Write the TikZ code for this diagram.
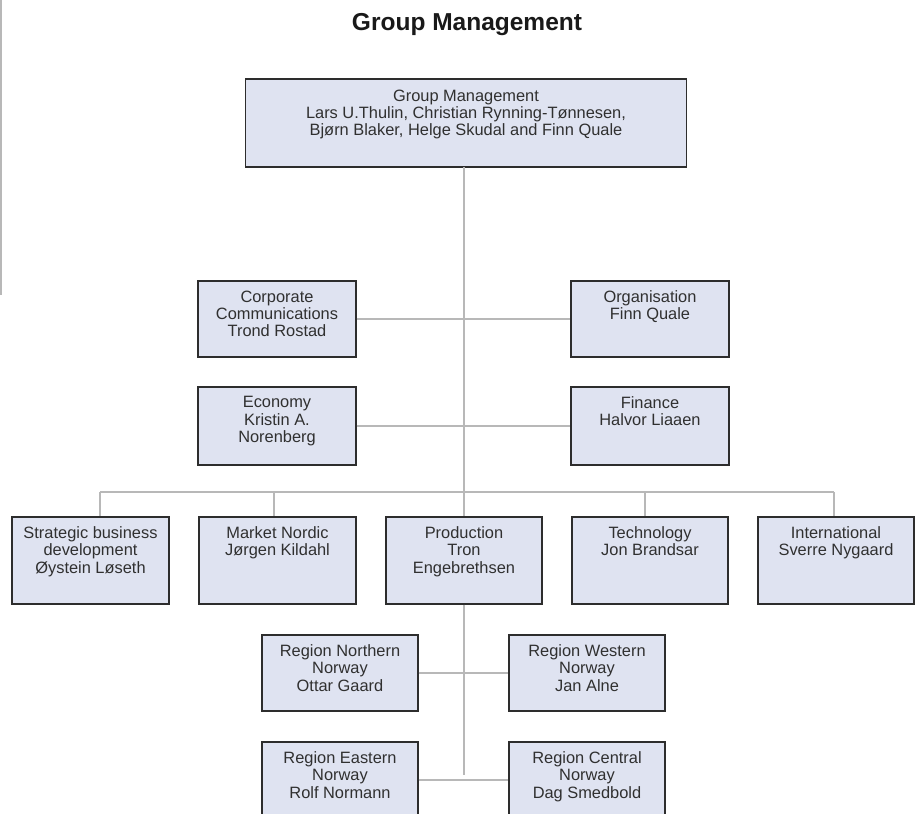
\documentclass[tikz,border=0pt]{standalone}
\usepackage{fontspec}
\setmainfont{Liberation Sans}
\usetikzlibrary{positioning}
\definecolor{boxfill}{RGB}{223,227,241}
\definecolor{boxline}{RGB}{45,45,45}
\definecolor{linegray}{RGB}{184,184,184}
\definecolor{txtgray}{RGB}{48,48,48}
\begin{document}
\begin{tikzpicture}[x=1pt,y=-1pt,
  box/.style={draw=boxline, fill=boxfill, line width=1.2pt, inner sep=0pt},
  lbl/.style={inner sep=0pt, align=center, text=txtgray,
     font=\fontsize{16.4}{17.4}\selectfont, execute at begin node=\strut},
  link/.style={draw=linegray, line width=1.5pt}]
\clip (0,0) rectangle (922,814);
\fill[white] (0,0) rectangle (922,814);
\draw[draw=linegray, line width=1.8pt] (1,0) -- (1,295);

\node[anchor=base, font=\bfseries\fontsize{24.5}{28}\selectfont, text=black!90] (title) at (467,30) {Group Management};

\coordinate (mtop) at (464,167);
\coordinate (mbot) at (464,775);
\coordinate (d1) at (100,492);
\coordinate (d2) at (274,492);
\coordinate (d3) at (464,492);
\coordinate (d4) at (645,492);
\coordinate (d5) at (834,492);

% boxes
\node[box, minimum width=441pt, minimum height=88pt] (gm) at (466,123) {};
\node[box, minimum width=158pt, minimum height=76pt] (cc) at (277,319) {};
\node[box, minimum width=158pt, minimum height=76pt] (org) at (650,319) {};
\node[box, minimum width=158pt, minimum height=78pt] (eco) at (277,426) {};
\node[box, minimum width=158pt, minimum height=78pt] (fin) at (650,426) {};
\node[box, minimum width=157pt, minimum height=87pt] (sbd) at (90.5,560.5) {};
\node[box, minimum width=157pt, minimum height=87pt] (mn) at (277.5,560.5) {};
\node[box, minimum width=156pt, minimum height=87pt] (prod) at (464,560.5) {};
\node[box, minimum width=156pt, minimum height=87pt] (tech) at (650,560.5) {};
\node[box, minimum width=156pt, minimum height=87pt] (intl) at (836,560.5) {};
\node[box, minimum width=156pt, minimum height=76pt] (rn) at (340,673) {};
\node[box, minimum width=156pt, minimum height=76pt] (rw) at (587,673) {};
\node[box, minimum width=156pt, minimum height=76pt] (re) at (340,780) {};
\node[box, minimum width=156pt, minimum height=76pt] (rc) at (587,780) {};

% lines
\draw[link] (mtop) -- (prod.north);
\draw[link] (prod.south) -- (mbot);
\draw[link] (cc.east) -- (org.west);
\draw[link] (eco.east) -- (fin.west);
\draw[link] (d1) -- (d5);
\draw[link] (d1) -- (d1 |- sbd.north);
\draw[link] (d2) -- (d2 |- mn.north);
\draw[link] (d4) -- (d4 |- tech.north);
\draw[link] (d5) -- (d5 |- intl.north);
\draw[link] (rn.east) -- (rw.west);
\draw[link] (re.east) -- (rc.west);

% labels
\node[lbl, below=11pt of gm.north] (gmt) {Group Management\\Lars U.Thulin, Christian Rynning-Tønnesen,\\Bjørn Blaker, Helge Skudal and Finn Quale};
\node[lbl, below=10pt of cc.north] (cct) {Corporate\\Communications\\Trond Rostad};
\node[lbl, below=10pt of org.north] (orgt) {Organisation\\Finn Quale};
\node[lbl, below=10pt of eco.north] (ecot) {Economy\\Kristin A.\\Norenberg};
\node[lbl, below=10pt of fin.north] (fint) {Finance\\Halvor Liaaen};
\node[lbl, below=10pt of sbd.north] (sbdt) {Strategic business\\development\\Øystein Løseth};
\node[lbl, below=10pt of mn.north] (mnt) {Market Nordic\\Jørgen Kildahl};
\node[lbl, below=10pt of prod.north] (prodt) {Production\\Tron\\Engebrethsen};
\node[lbl, below=10pt of tech.north] (techt) {Technology\\Jon Brandsar};
\node[lbl, below=10pt of intl.north] (intlt) {International\\Sverre Nygaard};
\node[lbl, below=10pt of rn.north] (rnt) {Region Northern\\Norway\\Ottar Gaard};
\node[lbl, below=10pt of rw.north] (rwt) {Region Western\\Norway\\Jan Alne};
\node[lbl, below=10pt of re.north] (ret) {Region Eastern\\Norway\\Rolf Normann};
\node[lbl, below=10pt of rc.north] (rct) {Region Central\\Norway\\Dag Smedbold};
\end{tikzpicture}
\end{document}
